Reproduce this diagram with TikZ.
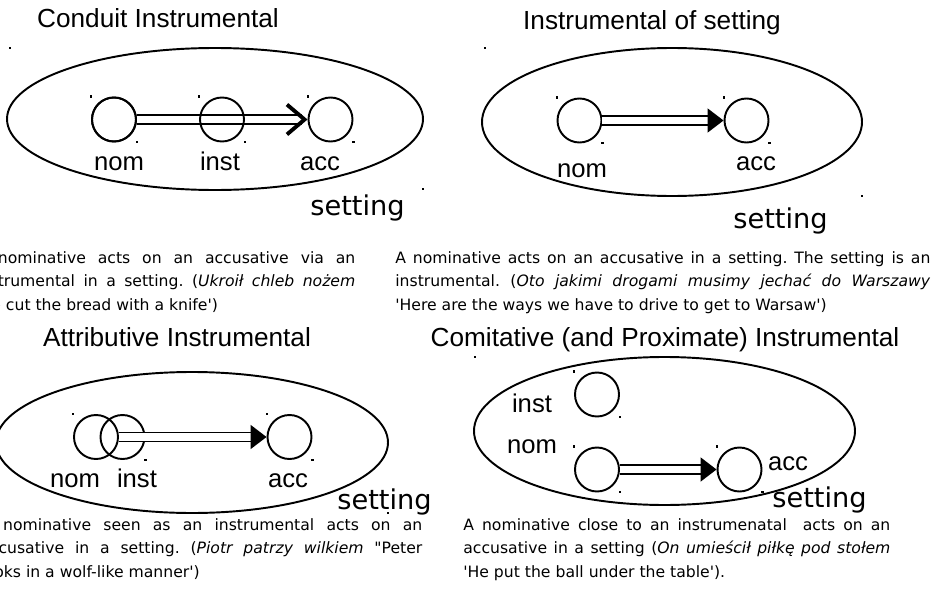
\documentclass[tikz,border=0pt]{standalone}
\usepackage{fontspec}
\setmainfont{Liberation Sans}
\newfontfamily\handfont{DejaVu Sans}
\usetikzlibrary{arrows.meta}

\tikzset{
  role/.style={draw, circle, line width=1.1pt, minimum size=0.88cm, inner sep=0pt},
  case/.style={anchor=base, inner sep=0pt, font=\fontsize{14.6}{17}\selectfont},
  heading/.style={anchor=base, inner sep=0pt, font=\fontsize{14.9}{18}\selectfont},
  place/.style={anchor=base west, inner sep=0pt, font=\handfont\fontsize{15.5}{18}\selectfont},
  gloss/.style={anchor=base west, inner sep=0pt, align=justify, font=\handfont\fontsize{8.9}{13.6}\selectfont\frenchspacing},
  acts/.style={double, double distance=4pt, line width=1.1pt, -{Triangle[length=9pt,width=13.5pt]}},
  via/.style={double, double distance=4pt, line width=1.1pt, shorten >=3pt},
  barb/.style={line width=2pt, -{Straight Barb[length=10pt,width=17pt,line width=2.2pt]}},
  frame/.style={line width=1.1pt},
}
\newcommand{\grip}[1]{\fill (#1) ++(-0.02,-0.02) rectangle ++(0.045,0.045);}

\begin{document}
\begin{tikzpicture}
\useasboundingbox (0,0) rectangle (18.7,11.88);
\clip (0,0) rectangle (18.7,11.88);

% conduit
\node[heading] (head1) at (3.16,11.32) {Conduit Instrumental};
\draw[frame] (4.30,9.50) ellipse (4.16 and 1.42);
\grip{0.20,10.92}
\grip{8.46,8.10}
\coordinate (nomc1) at (2.28,9.49);
\node[role] (nom1) at (nomc1) {};
\node[role] (acc1) at (6.61,9.49) {};
\draw[via] (nom1.east) -- (acc1.west);
\draw[barb] ([xshift=-3pt]acc1.west) -- (acc1.west);
\node[role] (inst1) at (4.44,9.49) {};
\node[role] (nom1) at (nomc1) {};
\grip{nom1.west |- nom1.north}
\grip{nom1.east |- nom1.south}
\grip{inst1.west |- inst1.north}
\grip{inst1.east |- inst1.south}
\grip{acc1.west |- acc1.north}
\grip{acc1.east |- acc1.south}
\node[case] (nomtxt1) at (2.38,8.48) {nom};
\node[case] (insttxt1) at (4.40,8.48) {inst};
\node[case] (acctxt1) at (6.40,8.48) {acc};
\node[place] (set1) at (6.20,7.58) {setting};

% setting
\node[heading] (head2) at (13.04,11.30) {Instrumental of setting};
\draw[frame] (13.44,9.44) ellipse (3.80 and 1.48);
\grip{9.70,10.92}
\grip{17.24,7.96}
\node[role] (nom2) at (11.59,9.47) {};
\node[role] (acc2) at (14.93,9.47) {};
\draw[acts] (nom2.east) -- (acc2.west);
\grip{nom2.west |- nom2.north}
\grip{nom2.east |- nom2.south}
\grip{acc2.west |- acc2.north}
\grip{acc2.east |- acc2.south}
\node[case] (nomtxt2) at (11.64,8.34) {nom};
\node[case] (acctxt2) at (15.12,8.48) {acc};
\node[place] (set2) at (14.66,7.32) {setting};

% attributive
\node[heading] (head3) at (3.54,4.96) {Attributive Instrumental};
\draw[frame] (3.84,3.03) ellipse (3.92 and 1.41);
\grip{7.76,1.62}
\node[role] (nom3) at (1.92,3.14) {};
\node[role] (inst3) at (2.45,3.14) {};
\node[role] (acc3) at (5.79,3.14) {};
\draw[acts] (nom3.east) -- (acc3.west);
\grip{nom3.west |- nom3.north}
\grip{inst3.east |- inst3.south}
\grip{acc3.west |- acc3.north}
\grip{acc3.east |- acc3.south}
\node[case] (nomtxt3) at (1.50,2.14) {nom};
\node[case] (insttxt3) at (2.74,2.14) {inst};
\node[case] (acctxt3) at (5.76,2.14) {acc};
\node[place] (set3) at (6.74,1.70) {setting};

% comitative
\node[heading] (head4) at (13.30,4.96) {Comitative (and Proximate) Instrumental};
\draw[frame] (13.29,3.26) ellipse (3.81 and 1.48);
\grip{9.50,4.74}
\node[role] (inst4) at (11.94,3.99) {};
\node[role] (nom4) at (11.94,2.49) {};
\node[role] (acc4) at (14.79,2.49) {};
\draw[acts] (nom4.east) -- (acc4.west);
\grip{inst4.west |- inst4.north}
\grip{inst4.east |- inst4.south}
\grip{nom4.west |- nom4.north}
\grip{nom4.east |- nom4.south}
\grip{acc4.west |- acc4.north}
\grip{acc4.east |- acc4.south}
\node[case] (insttxt4) at (10.64,3.64) {inst};
\node[case] (nomtxt4) at (10.64,2.82) {nom};
\node[case] (acctxt4) at (15.76,2.48) {acc};
\node[place] (set4) at (15.44,1.74) {setting};

% glosses
\node[gloss, text width=7.6cm] (note1) at (-0.50,6.62) {A nominative acts on an accusative via an\linebreak instrumental in a setting. (\textit{Ukroił chleb nożem}\linebreak 'He cut the bread with a knife')};
\node[gloss, text width=10.7cm] (note2) at (7.90,6.62) {A nominative acts on an accusative in a setting. The setting is an\linebreak instrumental. (\textit{Oto jakimi drogami musimy jechać do Warszawy}\linebreak 'Here are the ways we have to drive to get to Warsaw')};
\node[gloss, text width=8.84cm] (note3) at (-0.40,1.28) {A nominative seen as an instrumental acts on an\linebreak accusative in a setting. (\textit{Piotr patrzy wilkiem} "Peter\linebreak looks in a wolf-like manner')};
\node[gloss, text width=8.54cm] (note4) at (9.26,1.28) {A nominative close to an instrumenatal\ \ acts on an\linebreak accusative in a setting (\textit{On umieścił piłkę pod stołem}\linebreak 'He put the ball under the table').};
\end{tikzpicture}
\end{document}
